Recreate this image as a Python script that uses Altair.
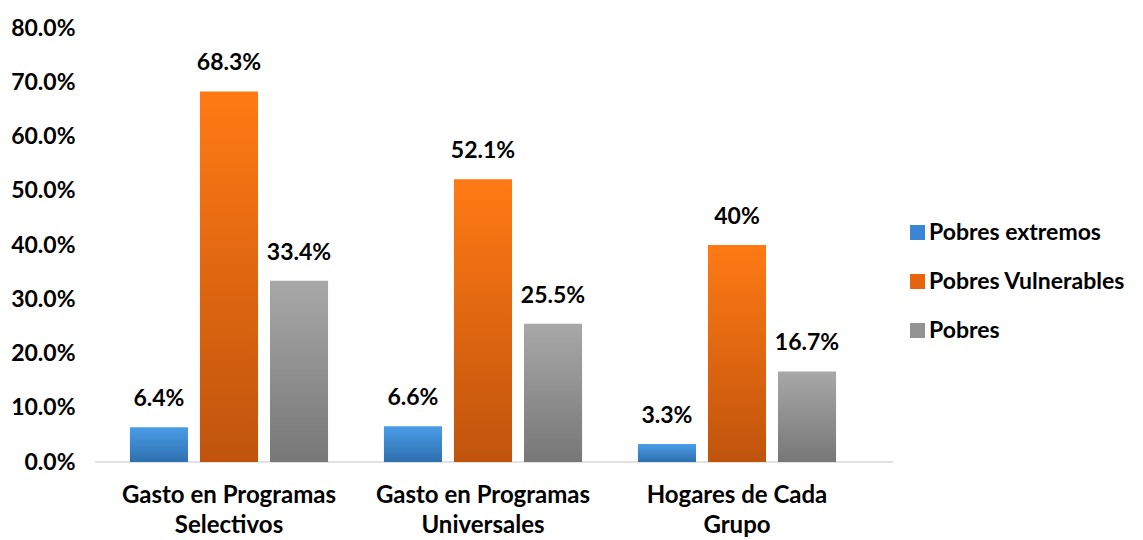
import altair as alt
import pandas as pd

categories = ["Gasto en Programas Selectivos", "Gasto en Programas Universales", "Hogares de Cada Grupo"]
series = ["Pobres extremos", "Pobres Vulnerables", "Pobres"]
pobres_extremos = [6.4, 6.6, 3.3]
pobres_vulnerables = [68.3, 52.1, 40.0]
pobres = [33.4, 25.5, 16.7]
value_labels = [["6.4%", "6.6%", "3.3%"], ["68.3%", "52.1%", "40%"], ["33.4%", "25.5%", "16.7%"]]

rows = []
for s_i, (s, vals) in enumerate(zip(series, [pobres_extremos, pobres_vulnerables, pobres])):
    for c_i, c in enumerate(categories):
        rows.append({"category": c, "series": s, "value": vals[c_i], "label": value_labels[s_i][c_i]})
df = pd.DataFrame(rows)

FONT = "Lato"
solid = ["#3a86d4", "#e8650f", "#939393"]
grads = [
    ("#4a9de8", "#2f6fae"),
    ("#ff7a14", "#c0540d"),
    ("#a8a8a8", "#777777"),
]

x_enc = alt.X("category:N", sort=categories, title=None,
              scale=alt.Scale(paddingInner=0.22, paddingOuter=0.11),
              axis=alt.Axis(labelAngle=0, labelFont=FONT, labelFontSize=24, labelFontWeight="bold",
                            labelColor="#000000", labelLineHeight=30, labelPadding=21,
                            ticks=False, domain=False, labelLimit=400,
                            labelExpr="[join(slice(split(datum.label,' '),0,3),' '), join(slice(split(datum.label,' '),3),' ')]"))
xoff_enc = alt.XOffset("series:N", sort=series,
                       scale=alt.Scale(domain=series, paddingInner=0.171, paddingOuter=0))
y_enc = alt.Y("value:Q", title=None,
              scale=alt.Scale(domain=[0, 80], nice=False),
              axis=alt.Axis(values=[0, 10, 20, 30, 40, 50, 60, 70, 80], grid=False, ticks=False, domain=False,
                            labelFont=FONT, labelFontSize=23, labelFontWeight="bold", labelColor="#000000",
                            labelPadding=27, labelExpr="format(datum.value, '.1f') + '%'"))

base = alt.Chart(df)

legend_layer = base.mark_bar(opacity=0).encode(
    x=x_enc, xOffset=xoff_enc, y=y_enc,
    color=alt.Color("series:N", sort=series,
                    scale=alt.Scale(domain=series, range=solid),
                    legend=alt.Legend(title=None, orient="none", legendX=804, legendY=193,
                                      symbolType="square", symbolSize=225, symbolOpacity=1,
                                      symbolStrokeWidth=0, padding=0, rowPadding=25, labelOffset=0,
                                      labelFont=FONT, labelFontSize=23, labelFontWeight="bold",
                                      labelColor="#000000", labelLimit=400)),
)

bar_layers = []
for s, (top, bot) in zip(series, grads):
    g = alt.LinearGradient(gradient="linear", x1=0, x2=0, y1=0, y2=1,
                           stops=[alt.GradientStop(color=top, offset=0), alt.GradientStop(color=bot, offset=1)])
    bar_layers.append(
        base.transform_filter(alt.datum.series == s).mark_bar(color=g).encode(
            x=x_enc, xOffset=xoff_enc, y=y_enc)
    )

text_layer = base.mark_text(font=FONT, fontSize=23, fontWeight="bold", color="#000000",
                            baseline="middle", dy=-28).encode(
    x=x_enc, xOffset=xoff_enc, y=y_enc, text="label:N")

axis_line = alt.Chart(pd.DataFrame({"a": [0]})).mark_rule(color="#d9d9d9", strokeWidth=1.5).encode(
    x=alt.value(-7), x2=alt.value(791), y=alt.value(434))

chart = alt.layer(axis_line, legend_layer, *bar_layers, text_layer).properties(
    width=762, height=434,
    autosize=alt.AutoSizeParams(type="none"),
    padding={"left": 94, "top": 20, "right": 270, "bottom": 78},
    background="white",
).configure_view(stroke=None)

chart.save("out.html", embed_options={"renderer": "svg", "actions": False})
